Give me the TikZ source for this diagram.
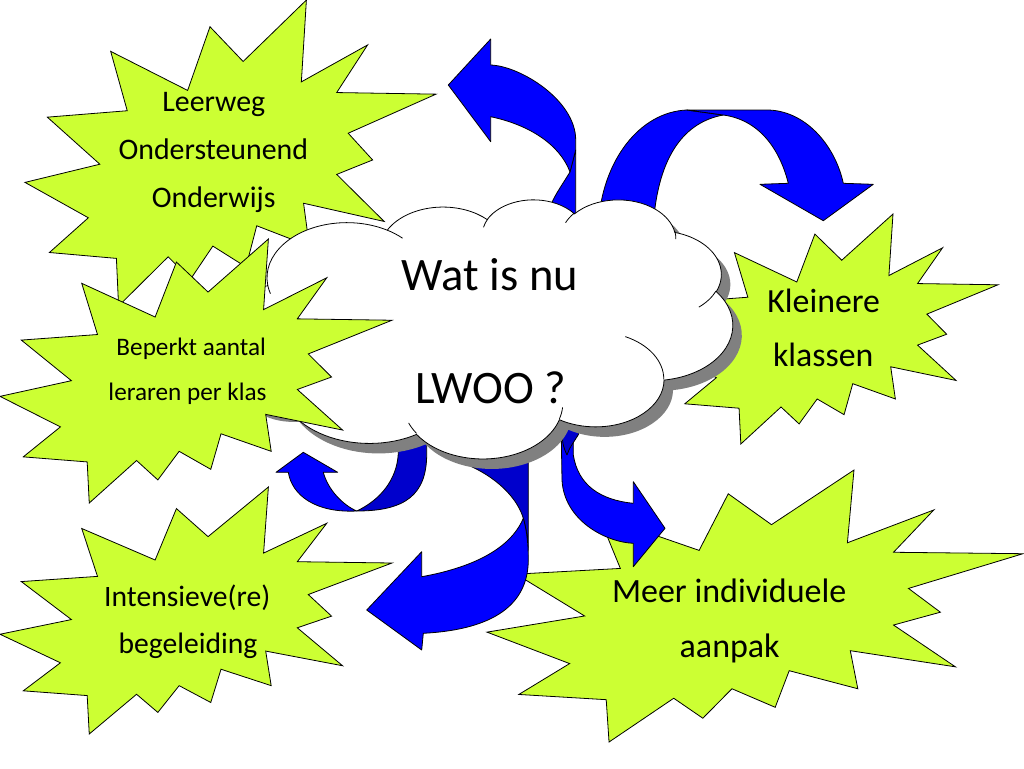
\documentclass[tikz,border=0pt]{standalone}
\usepackage{fontspec}
\setmainfont{Carlito}
\definecolor{burstgreen}{RGB}{204,255,51}
\definecolor{arrowblue}{RGB}{0,0,255}
\definecolor{arrowdark}{RGB}{0,0,204}
\definecolor{shadowgray}{RGB}{128,128,128}
\tikzset{
  burst/.style={fill=burstgreen, draw=black, line width=0.6pt, line join=miter},
  arrowfront/.style={fill=arrowblue, draw=black, line width=0.6pt, line join=round},
  arrowback/.style={fill=arrowdark, draw=black, line width=0.6pt, line join=round},
  cloudbody/.style={fill=white, draw=black, line width=0.6pt},
  cloudshadow/.style={fill=shadowgray},
  crease/.style={draw=black, line width=0.6pt},
  lbl/.style={inner sep=0pt, anchor=base, text=black}
}
% explosion shape, frame x0 y0 w h in pixels (y downwards)
\newcommand\burst[4]{%
  \begin{scope}[shift={(#1,-#2)}, xscale=#3/216, yscale=#4/216]
    \path[burst] (114.64,-43.40) -- (97.22,-18.87) -- (85.48,-63.83) -- (45.03,-36.26)
      -- (53.73,-78.16) -- (11.74,-82.70) -- (39.34,-115.92) -- (0,-128.75)
      -- (33.29,-153.72) -- (12.83,-178.24) -- (48.04,-182.39) -- (49.18,-216)
      -- (75.25,-181.25) -- (86.98,-197.12) -- (98.71,-173.71) -- (116.14,-188.44)
      -- (121.78,-159.37) -- (149.43,-173.71) -- (146.40,-143.48) -- (188.78,-156.32)
      -- (163.82,-123.11) -- (182.70,-112.92) -- (169.86,-94.04) -- (216,-66.46)
      -- (163.82,-65.33) -- (180.05,-31.72) -- (145.24,-57.78) -- (147.89,0) -- cycle;
  \end{scope}}
% convert a visual arc (wR hR stAng swAng) into parametric TikZ angles (y up)
\newcommand\defarc[6]{%
  \pgfmathsetmacro\tmpt{atan2((#3)*sin(#5),(#4)*cos(#5))}%
  \pgfmathsetmacro#1{-((#5)+mod(\tmpt-(#5)+540,360)-180)}%
  \pgfmathsetmacro\tmpb{(#5)+(#6)}%
  \pgfmathsetmacro\tmpt{atan2((#3)*sin(\tmpb),(#4)*cos(\tmpb))}%
  \pgfmathsetmacro#2{-((\tmpb)+mod(\tmpt-(\tmpb)+540,360)-180)}%
}
\defarc\arcAs\arcAe{67.53}{91.90}{-190.487}{123.781}
\defarc\arcBs\arcBe{53.33}{72.67}{-144.102}{89.945}
\defarc\arcCs\arcCe{43.65}{59.45}{-145.808}{99.723}
\defarc\arcDs\arcDe{48.57}{65.95}{-130.986}{117.242}
\defarc\arcEs\arcEe{53.33}{72.73}{-78.709}{109.027}
\defarc\arcFs\arcFe{67.75}{92.20}{-46.267}{130.269}
\defarc\arcGs\arcGe{57.85}{78.67}{0.625}{114.033}
\defarc\arcHs\arcHe{67.52}{92.15}{22.452}{115.173}
\defarc\arcIs\arcIe{77.20}{105.43}{66.243}{75.711}
\defarc\arcJs\arcJe{43.60}{59.18}{-274.942}{146.736}
\defarc\arcKs\arcKe{43.45}{59.45}{-246.829}{152.519}
\defarc\crAs\crAe{43.45}{59.45}{86.742}{26.430}
\defarc\crBs\crBe{43.60}{59.18}{73.610}{11.447}
\defarc\crCs\crCe{67.52}{92.15}{137.624}{14.081}
\defarc\crDs\crDe{67.52}{92.15}{6.453}{15.998}
\defarc\crEs\crEe{57.85}{78.67}{-70.292}{70.917}
\defarc\crFs\crFe{53.33}{72.73}{30.318}{27.752}
\defarc\crGs\crGe{48.57}{65.95}{-13.744}{14.859}
\defarc\crHs\crHe{48.57}{65.95}{-149.181}{18.195}
\defarc\crIs\crIe{43.65}{59.45}{-163.494}{17.686}
\defarc\crJs\crJe{67.53}{91.90}{-66.707}{12.319}
\defarc\crKs\crKe{67.53}{91.90}{157.654}{11.858}
\newcommand\cloudoutline{(39.00,-143.70)
  arc[x radius=67.53, y radius=91.90, start angle=\arcAs, end angle=\arcAe]
  arc[x radius=53.33, y radius=72.67, start angle=\arcBs, end angle=\arcBe]
  arc[x radius=43.65, y radius=59.45, start angle=\arcCs, end angle=\arcCe]
  arc[x radius=48.57, y radius=65.95, start angle=\arcDs, end angle=\arcDe]
  arc[x radius=53.33, y radius=72.73, start angle=\arcEs, end angle=\arcEe]
  arc[x radius=67.75, y radius=92.20, start angle=\arcFs, end angle=\arcFe]
  arc[x radius=57.85, y radius=78.67, start angle=\arcGs, end angle=\arcGe]
  arc[x radius=67.52, y radius=92.15, start angle=\arcHs, end angle=\arcHe]
  arc[x radius=77.20, y radius=105.43, start angle=\arcIs, end angle=\arcIe]
  arc[x radius=43.60, y radius=59.18, start angle=\arcJs, end angle=\arcJe]
  arc[x radius=43.45, y radius=59.45, start angle=\arcKs, end angle=\arcKe]
  -- cycle}
\begin{document}
\begin{tikzpicture}[x=0.75pt,y=0.75pt]
\useasboundingbox (0,0) rectangle (1024,-768);
\fill[white] (0,0) rectangle (1024,-768);

% explosions below the cloud
\burst{25}{0}{411}{306}
\burst{665}{214}{333}{230}
\burst{487}{470}{536}{272}
\burst{0}{487}{392}{247}

% arrow to the upper left
\path[arrowfront] (575.7,-150) -- (570,-172) .. controls (562,-185) and (555,-195) .. (551.7,-203)
  -- (551.7,-225) -- (575.7,-225) -- cycle;
\path[arrowfront] (575.7,-150) -- (575.7,-140) .. controls (575.7,-100) and (520,-66) .. (490.7,-65)
  -- (490.7,-39) -- (448.3,-85) -- (490.7,-141.7) -- (490.7,-116.7)
  .. controls (530,-125) and (560,-145) .. (570,-172) -- cycle;

% arch arrow to the right
\path[arrowfront] (598.3,-225) .. controls (602,-160) and (640,-112) .. (686.7,-110)
  -- (723.3,-115) .. controls (685,-122) and (658,-155) .. (653.3,-225) -- cycle;
\path[arrowfront] (686.7,-110) -- (766.7,-110) .. controls (805,-110) and (835,-145) .. (843.3,-183.3)
  -- (873.3,-184.3) -- (823.3,-220.7) -- (760,-184.3) -- (788.3,-183.3)
  .. controls (780,-150) and (760,-120) .. (723.3,-115) -- cycle;

% small U arrow, lower left
\path[arrowback] (426.7,-420) -- (426.7,-453.3) .. controls (427,-495) and (405,-511) .. (356.7,-511)
  .. controls (380,-500) and (397,-480) .. (398.3,-453.3) -- (398.3,-420) -- cycle;
\path[arrowfront] (356.7,-511) .. controls (315,-513) and (292,-495) .. (288.3,-472.3)
  -- (276,-472.3) -- (303.3,-452.3) -- (337.7,-472.3) -- (323.3,-472.3)
  .. controls (328,-490) and (343,-505) .. (356.7,-511) -- cycle;

% big arrow, lower middle
\path[arrowback] (468,-440) -- (471.7,-466.7) .. controls (500,-480) and (518,-500) .. (523.3,-518.3)
  .. controls (526,-528) and (528.3,-540) .. (528.3,-550) -- (528.3,-440) -- cycle;
\path[arrowfront] (523.3,-518.3) .. controls (526,-528) and (528.3,-540) .. (528.3,-560)
  .. controls (528,-610) and (485,-630) .. (423.3,-633.3)
  -- (421.7,-650) -- (366.7,-610) -- (421.7,-551.7) -- (421.7,-576.7)
  .. controls (470,-568) and (510,-550) .. (523.3,-518.3) -- cycle;

% arrow to the lower right
\path[arrowfront] (561,-420) -- (562,-480) .. controls (564,-520) and (605,-542) .. (633.3,-543.3)
  -- (633.3,-566.7) -- (665,-528.3) -- (633.3,-481.7) -- (633.3,-503.3)
  .. controls (600,-500) and (578,-485) .. (573.3,-455) -- (573.3,-420) -- cycle;
\path[arrowback] (562,-420) -- (579,-420) -- (578.7,-434) .. controls (574,-442) and (569,-448) .. (567,-455)
  .. controls (563,-447) and (562,-440) .. (562,-432) -- cycle;

% cloud with shadow
\begin{scope}[shift={(230.6,-209)}, xscale=1.18287, yscale=0.59954]
  \path[cloudshadow] \cloudoutline;
\end{scope}
\begin{scope}[shift={(221.6,-199)}, xscale=1.18287, yscale=0.59954]
  \path[cloudbody] \cloudoutline;
  \path[crease]
    (46.93,-261.77) arc[x radius=43.45, y radius=59.45, start angle=\crAs, end angle=\crAe]
    (69.28,-348.99) arc[x radius=43.60, y radius=59.18, start angle=\crBs, end angle=\crBe]
    (164.78,-390.90) arc[x radius=67.52, y radius=92.15, start angle=\crCs, end angle=\crCe]
    (288.27,-347.51) arc[x radius=67.52, y radius=92.15, start angle=\crDs, end angle=\crDe]
    (341.29,-229.54) arc[x radius=57.85, y radius=78.67, start angle=\crEs, end angle=\crEe]
    (417.98,-153.54) arc[x radius=53.33, y radius=72.73, start angle=\crFs, end angle=\crFe]
    (383.24,-54.26) arc[x radius=48.57, y radius=65.95, start angle=\crGs, end angle=\crGe]
    (290.78,-39.52) arc[x radius=48.57, y radius=65.95, start angle=\crHs, end angle=\crHe]
    (221.41,-47.20) arc[x radius=43.65, y radius=59.45, start angle=\crIs, end angle=\crIe]
    (140.00,-51.92) arc[x radius=67.53, y radius=91.90, start angle=\crJs, end angle=\crJe]
    (41.27,-157.89) arc[x radius=67.53, y radius=91.90, start angle=\crKs, end angle=\crKe];
\end{scope}
\node[lbl, font=\fontsize{34.9}{40}\selectfont] (watisnu) at (490,-290) {Wat is nu};
\node[lbl, font=\fontsize{34.9}{40}\selectfont] (lwoo) at (490.8,-403.3) {LWOO ?};

% explosion above the cloud
\burst{0}{239}{392}{264}

% labels
\node[lbl, font=\fontsize{22.4}{26}\selectfont] (leerwegA) at (213.8,-111.7) {Leerweg};
\node[lbl, font=\fontsize{22.4}{26}\selectfont] (leerwegB) at (213.3,-159.3) {Ondersteunend};
\node[lbl, font=\fontsize{22.4}{26}\selectfont] (leerwegC) at (213.7,-207.3) {Onderwijs};
\node[lbl, font=\fontsize{18.9}{22}\selectfont] (beperktA) at (191.2,-355) {Beperkt aantal};
\node[lbl, font=\fontsize{18.9}{22}\selectfont] (beperktB) at (187.5,-400.7) {leraren per klas};
\node[lbl, font=\fontsize{22.2}{26}\selectfont] (intensA) at (187.2,-606.7) {Intensieve(re)};
\node[lbl, font=\fontsize{22.2}{26}\selectfont] (intensB) at (188,-653.3) {begeleiding};
\node[lbl, font=\fontsize{25.35}{30}\selectfont] (kleinA) at (823.7,-312.3) {Kleinere};
\node[lbl, font=\fontsize{25.35}{30}\selectfont] (kleinB) at (823.2,-366.7) {klassen};
\node[lbl, font=\fontsize{25.5}{30}\selectfont] (meerA) at (729.2,-602.3) {Meer individuele};
\node[lbl, font=\fontsize{25.5}{30}\selectfont] (meerB) at (729.7,-657.3) {aanpak};
\end{tikzpicture}
\end{document}
